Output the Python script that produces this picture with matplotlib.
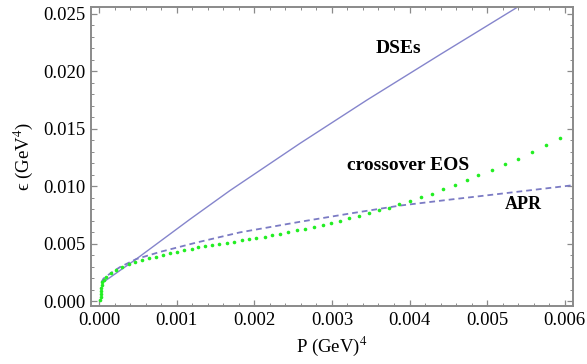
import matplotlib.pyplot as plt
from matplotlib.ticker import MultipleLocator

# DSEs equation of state (solid)
dse_p = [0.000049, 0.000478, 0.00117, 0.001686, 0.002588, 0.003451, 0.0044, 0.005401, 0.00546]
dse_e = [0.00163, 0.00366, 0.00712, 0.00962, 0.01372, 0.01749, 0.02147, 0.02561, 0.02585]

# APR equation of state (dashed)
apr_p = [0.0000296, 0.0000554, 0.000139, 0.000268, 0.000478, 0.000784, 0.001251,
         0.001814, 0.002588, 0.003232, 0.003876, 0.004521, 0.005036, 0.00613]
apr_e = [0.00165, 0.00196, 0.00239, 0.00296, 0.00366, 0.00428, 0.00509,
         0.00598, 0.00690, 0.00762, 0.00831, 0.00883, 0.00923, 0.01010]

# crossover EOS, individual points
cross_p = [0.00001, 0.0000193, 0.0000219, 0.0000245, 0.0000284, 0.0000335, 0.0000412, 0.0000554,
           0.0000876, 0.000146, 0.000216, 0.000294, 0.000378, 0.000461, 0.000552, 0.000642,
           0.000732, 0.000822, 0.000912, 0.001003, 0.001099,
           0.001192, 0.001273, 0.001363, 0.001454, 0.001544, 0.001643, 0.001737, 0.001836,
           0.001927, 0.002025, 0.002133, 0.002231, 0.002330, 0.002437, 0.002545,
           0.002656, 0.002768, 0.002880, 0.002991, 0.003107, 0.003223, 0.003352, 0.003477,
           0.003602, 0.003731, 0.003860,
           0.004005, 0.004143, 0.004285, 0.004427, 0.004581, 0.004736, 0.004885,
           0.005058, 0.005226, 0.005397, 0.005577, 0.005758, 0.005942]
cross_e = [0.000087, 0.000348, 0.000609, 0.00087, 0.00113, 0.00139, 0.00165, 0.00187,
           0.00213, 0.00244, 0.00274, 0.00300, 0.00322, 0.00339, 0.00357, 0.00372,
           0.00387, 0.00402, 0.00416, 0.00429, 0.00442,
           0.00455, 0.00467, 0.00476, 0.00487, 0.00499, 0.00507, 0.00516, 0.00528,
           0.00537, 0.00548, 0.00560, 0.00572, 0.00586, 0.00603, 0.00615,
           0.00629, 0.00647, 0.00664, 0.00679, 0.00696, 0.00720, 0.00740, 0.00763,
           0.00789, 0.00812, 0.00842,
           0.00870, 0.00903, 0.00934, 0.00972, 0.01007, 0.01050, 0.01094,
           0.01140, 0.01192, 0.01238, 0.01294, 0.01358, 0.01416]

x_ticks = [0.000, 0.001, 0.002, 0.003, 0.004, 0.005, 0.006]
y_ticks = [0.000, 0.005, 0.010, 0.015, 0.020, 0.025]

plt.rcParams["font.family"] = ["Liberation Serif", "DejaVu Serif"]
plt.rcParams["mathtext.fontset"] = "stix"

fig = plt.figure(figsize=(5.87, 3.64), dpi=100)
ax = fig.add_axes([0.155, 0.159, 0.821, 0.822])

ax.plot(dse_p, dse_e, color="#8585cc", lw=1.0)
ax.plot(apr_p, apr_e, color="#7b7bc4", lw=1.3, dashes=(3.2, 2.2))
ax.plot(cross_p, cross_e, ls="none", marker="o", ms=2.6, mew=0,
        color="#22ee22")

ax.set_xlim(-0.000106, 0.006106)
ax.set_ylim(-0.000435, 0.02559)
ax.set_xticks(x_ticks)
ax.set_yticks(y_ticks)
ax.set_xticklabels([f"{v:.3f}" for v in x_ticks])
ax.set_yticklabels([f"{v:.3f}" for v in y_ticks])
ax.xaxis.set_minor_locator(MultipleLocator(0.0002))
ax.yaxis.set_minor_locator(MultipleLocator(0.001))

frame_col = "#8a8a8a"
for s in ax.spines.values():
    s.set_color(frame_col)
    s.set_linewidth(1.4)
ax.tick_params(which="both", direction="in", top=True, right=True,
               color=frame_col, labelsize=13.5, labelcolor="black")
ax.tick_params(which="major", length=4.5, width=0.9, pad=4)
ax.tick_params(which="minor", length=2.5, width=0.7)

ax.set_xlabel("P (GeV)$^{4}$", fontsize=13.5, labelpad=4)
ax.set_ylabel("\u03f5 (GeV$^{4}$)", fontsize=13.5, labelpad=6)

ax.text(0.003862, 0.02200, "DSEs", fontsize=14, fontweight="bold",
        ha="center", va="center")
ax.text(0.003980, 0.01183, "crossover EOS", fontsize=14, fontweight="bold",
        ha="center", va="center")
ax.text(0.005467, 0.00844, "APR", fontsize=13, fontweight="bold",
        ha="center", va="center")

fig.savefig("out.png", dpi=100)
